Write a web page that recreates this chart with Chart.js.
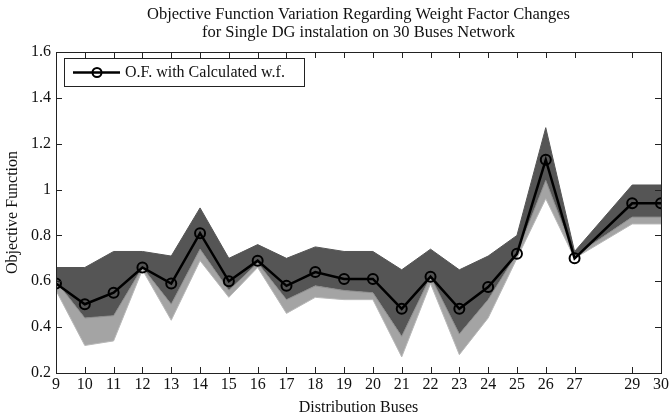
<!DOCTYPE html>
<html>
<head>
<meta charset="utf-8">
<script src="https://cdn.jsdelivr.net/npm/chart.js@4/dist/chart.umd.min.js"></script>
<style>
  html, body { margin: 0; padding: 0; background: #fff; }
  #wrap { width: 671px; height: 418px; }
</style>
</head>
<body>
<div id="wrap"><canvas id="chart" width="671" height="418"></canvas></div>
<script>
// buses (28 is not in the set)
var buses = [9, 10, 11, 12, 13, 14, 15, 16, 17, 18, 19, 20, 21, 22, 23, 24, 25, 26, 27, 29, 30];
var xTicks = [9, 10, 11, 12, 13, 14, 15, 16, 17, 18, 19, 20, 21, 22, 23, 24, 25, 26, 27, 29, 30];
var yTicks = [0.2, 0.4, 0.6, 0.8, 1, 1.2, 1.4, 1.6];

// O.F. with calculated weight factors
var ofCalc = [0.59, 0.50, 0.55, 0.66, 0.59, 0.81, 0.60, 0.69, 0.58, 0.64, 0.61, 0.61, 0.48, 0.62, 0.48, 0.575, 0.72, 1.13, 0.70, 0.94, 0.94];
// envelope of the weight factor variations
var bandUpper = [0.66, 0.66, 0.73, 0.73, 0.71, 0.92, 0.70, 0.76, 0.70, 0.75, 0.73, 0.73, 0.65, 0.74, 0.65, 0.71, 0.80, 1.27, 0.73, 1.02, 1.02];
var bandInner = [0.60, 0.44, 0.45, 0.66, 0.50, 0.74, 0.56, 0.68, 0.52, 0.58, 0.56, 0.55, 0.36, 0.62, 0.37, 0.52, 0.72, 1.04, 0.71, 0.88, 0.88];
var bandLower = [0.56, 0.32, 0.34, 0.65, 0.43, 0.69, 0.53, 0.66, 0.46, 0.53, 0.52, 0.52, 0.27, 0.59, 0.28, 0.44, 0.70, 0.96, 0.70, 0.85, 0.85];

var titleLines = ['Objective Function Variation Regarding Weight Factor Changes', 'for Single DG instalation on 30 Buses Network'];
var legendLabel = 'O.F. with Calculated w.f.';

var serif = '"Liberation Serif", "DejaVu Serif", serif';

function pts(values) {
    return buses.map(function (b, i) {
        return {x: b, y: values[i]};
    });
}

var framePlugin = {
    id: 'frame',
    afterDraw: function (chart) {
        var ctx = chart.ctx;
        var a = chart.chartArea;
        var xs = chart.scales.x, ys = chart.scales.y;
        ctx.save();
        ctx.strokeStyle = '#222';
        ctx.lineWidth = 1;
        ctx.strokeRect(Math.round(a.left) + 0.5, Math.round(a.top) + 0.5, Math.round(a.right - a.left), Math.round(a.bottom - a.top));

        // inward ticks, mirrored
        ctx.beginPath();
        xTicks.forEach(function (t) {
            var px = Math.round(xs.getPixelForValue(t)) + 0.5;
            ctx.moveTo(px, a.bottom); ctx.lineTo(px, a.bottom - 6);
            ctx.moveTo(px, a.top); ctx.lineTo(px, a.top + 6);
        });
        yTicks.forEach(function (t) {
            var py = Math.round(ys.getPixelForValue(t)) + 0.5;
            ctx.moveTo(a.left, py); ctx.lineTo(a.left + 6, py);
            ctx.moveTo(a.right, py); ctx.lineTo(a.right - 6, py);
        });
        ctx.stroke();

        // title
        ctx.fillStyle = '#111';
        ctx.textAlign = 'center';
        ctx.textBaseline = 'middle';
        ctx.font = '16.5px ' + serif;
        var cx = (a.left + a.right) / 2;
        ctx.fillText(titleLines[0], cx, 15);
        ctx.fillText(titleLines[1], cx, 33);

        // axis titles
        ctx.font = '16px ' + serif;
        ctx.fillText('Distribution Buses', cx, 408);
        ctx.save();
        ctx.translate(13, (a.top + a.bottom) / 2);
        ctx.rotate(-Math.PI / 2);
        ctx.fillText('Objective Function', 0, 0);
        ctx.restore();

        // legend box
        ctx.fillStyle = '#fff';
        ctx.fillRect(64.5, 58.5, 240, 28);
        ctx.strokeStyle = '#222';
        ctx.lineWidth = 1;
        ctx.strokeRect(64.5, 58.5, 240, 28);
        ctx.beginPath();
        ctx.strokeStyle = '#000';
        ctx.lineWidth = 2.5;
        ctx.moveTo(73, 72.5); ctx.lineTo(120, 72.5);
        ctx.stroke();
        ctx.beginPath();
        ctx.lineWidth = 2;
        ctx.arc(97, 72.5, 4.5, 0, Math.PI * 2);
        ctx.stroke();
        ctx.fillStyle = '#111';
        ctx.textAlign = 'left';
        ctx.font = '16px ' + serif;
        ctx.fillText(legendLabel, 125, 73);
        ctx.restore();
    }
};

new Chart(document.getElementById('chart').getContext('2d'), {
    type: 'line',
    data: {
        datasets: [
            {
                label: legendLabel,
                data: pts(ofCalc),
                borderColor: '#000',
                borderWidth: 2.5,
                pointRadius: 5,
                pointBorderWidth: 2,
                pointBorderColor: '#000',
                pointBackgroundColor: 'rgba(0,0,0,0)',
                fill: false,
                tension: 0,
                order: 0
            },
            {
                label: 'upper',
                data: pts(bandUpper),
                borderColor: '#555',
                backgroundColor: '#555',
                borderWidth: 1,
                pointRadius: 0,
                fill: '+1',
                tension: 0,
                order: 3
            },
            {
                label: 'inner',
                data: pts(bandInner),
                borderColor: '#8a8a8a',
                backgroundColor: '#a4a4a4',
                borderWidth: 1,
                pointRadius: 0,
                fill: '+1',
                tension: 0,
                order: 2
            },
            {
                label: 'lower',
                data: pts(bandLower),
                borderColor: '#b8b8b8',
                borderWidth: 1,
                pointRadius: 0,
                fill: false,
                tension: 0,
                order: 1
            }
        ]
    },
    options: {
        responsive: false,
        animation: false,
        layout: {padding: {top: 52, right: 10, left: 0, bottom: 0}},
        plugins: {
            legend: {display: false},
            tooltip: {enabled: false},
            title: {display: false}
        },
        scales: {
            x: {
                type: 'linear',
                min: 9,
                max: 30,
                afterBuildTicks: function (scale) {
                    scale.ticks = xTicks.map(function (v) { return {value: v}; });
                },
                ticks: {
                    autoSkip: false,
                    maxRotation: 0,
                    color: '#111',
                    font: {family: serif, size: 16},
                    padding: 2
                },
                grid: {display: false, drawTicks: false},
                border: {display: false},
                afterFit: function (scale) { scale.height = 45; }
            },
            y: {
                min: 0.2,
                max: 1.6,
                afterBuildTicks: function (scale) {
                    scale.ticks = yTicks.map(function (v) { return {value: v}; });
                },
                ticks: {
                    color: '#111',
                    font: {family: serif, size: 16},
                    padding: 5,
                    callback: function (v) { return String(Math.round(v * 10) / 10); }
                },
                grid: {display: false, drawTicks: false},
                border: {display: false},
                afterFit: function (scale) { scale.width = 56; }
            }
        }
    },
    plugins: [framePlugin]
});
</script>
</body>
</html>
